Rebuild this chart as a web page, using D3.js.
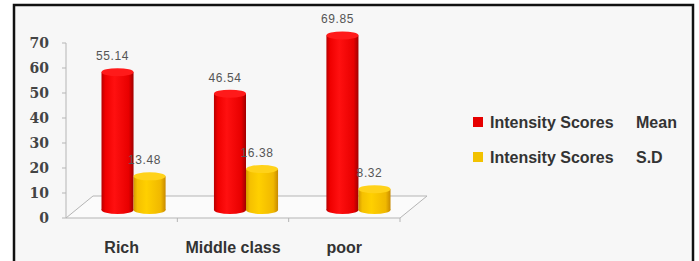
<!DOCTYPE html>
<html>
<head>
<meta charset="utf-8">
<script src="https://cdn.jsdelivr.net/npm/d3@7"></script>
<style>
  body { margin: 0; background: #fff; }
  svg { display: block; }
</style>
</head>
<body>
<svg id="chart" width="699" height="261"></svg>
<script>
let categories = ['Rich', 'Middle class', 'poor']
let meanValues = [55.14, 46.54, 69.85]
let sdValues = [13.48, 16.38, 8.32]
let seriesNames = ['Intensity Scores', 'Intensity Scores']
let seriesStats = ['Mean', 'S.D']
let yTicks = [0, 10, 20, 30, 40, 50, 60, 70]

let svg = d3.select('#chart')
let defs = svg.append('defs')

// frame
svg.append('rect')
    .attr('x', 14).attr('y', 5)
    .attr('width', 679).attr('height', 300)
    .attr('fill', '#f7f7f7')
    .attr('stroke', '#111')
    .attr('stroke-width', 2.5)

// floor depth offset
let dx = 27, dy = 22

let yAxisScale = d3.scaleLinear().domain([0, 70]).range([218, 43])
let yBar = d3.scaleLinear().domain([0, 70]).range([210, 35])

let xFront = d3.scaleBand().domain(categories).range([66, 400])
let x0 = d3.scaleBand().domain(categories).range([66 + 13, 400 + 13]).paddingInner(0.43).paddingOuter(0.2)
let x1 = d3.scaleBand().domain(['mean', 'sd']).range([0, x0.bandwidth()])

// floor
let fl = yAxisScale(0)
svg.append('path')
    .attr('d', `M66,${fl} L400,${fl} L${400 + dx},${fl - dy} L${66 + dx},${fl - dy} Z`)
    .attr('fill', '#fbfbfb')
    .attr('stroke', '#b5b5b5')
    .attr('stroke-width', 1)

// y axis
svg.append('line')
    .attr('x1', 66).attr('x2', 66)
    .attr('y1', yAxisScale(70)).attr('y2', yAxisScale(0))
    .attr('stroke', '#b5b5b5')

svg.selectAll('.ytick')
    .data(yTicks)
    .enter()
    .append('line')
    .attr('x1', 62).attr('x2', 66)
    .attr('y1', d => yAxisScale(d)).attr('y2', d => yAxisScale(d))
    .attr('stroke', '#b5b5b5')

svg.selectAll('.ylabel')
    .data(yTicks)
    .enter()
    .append('text')
    .attr('x', 49)
    .attr('y', d => yAxisScale(d) + 5)
    .attr('text-anchor', 'end')
    .attr('font-family', 'DejaVu Serif')
    .attr('font-weight', 'bold')
    .attr('font-size', 14)
    .attr('fill', '#444')
    .text(d => d)

// category ticks on front edge
svg.selectAll('.xtick')
    .data(categories)
    .enter()
    .append('line')
    .attr('x1', d => xFront(d) + xFront.bandwidth())
    .attr('x2', d => xFront(d) + xFront.bandwidth())
    .attr('y1', fl).attr('y2', fl + 4)
    .attr('stroke', '#b5b5b5')

svg.selectAll('.xlabel')
    .data(categories)
    .enter()
    .append('text')
    .attr('x', d => xFront(d) + xFront.bandwidth() / 2)
    .attr('y', 253)
    .attr('text-anchor', 'middle')
    .attr('font-family', 'Liberation Sans')
    .attr('font-weight', 'bold')
    .attr('font-size', 16)
    .attr('fill', '#333')
    .text(d => d)

// gradients for cylinders
let makeGrad = (id, stops) => {
    let g = defs.append('linearGradient').attr('id', id)
        .attr('x1', '0%').attr('x2', '100%').attr('y1', '0%').attr('y2', '0%')
    stops.forEach(s => g.append('stop').attr('offset', s[0]).attr('stop-color', s[1]))
}
makeGrad('redGrad', [['0%', '#b80000'], ['12%', '#f00000'], ['40%', '#ff1010'], ['85%', '#e80000'], ['100%', '#a00000']])
makeGrad('yelGrad', [['0%', '#d49a00'], ['12%', '#f5c000'], ['40%', '#ffd000'], ['85%', '#f0b800'], ['100%', '#c88a00']])

let bars = []
categories.forEach((c, i) => {
    bars.push({cat: c, key: 'mean', value: meanValues[i], grad: 'redGrad', top: '#ff1a1a'})
    bars.push({cat: c, key: 'sd', value: sdValues[i], grad: 'yelGrad', top: '#ffd21a'})
})

let ry = 4
let barG = svg.selectAll('.bar')
    .data(bars)
    .enter()
    .append('g')
    .attr('transform', d => 'translate(' + (x0(d.cat) + x1(d.key)) + ',0)')

barG.append('ellipse')
    .attr('cx', x1.bandwidth() / 2)
    .attr('cy', yBar(0))
    .attr('rx', x1.bandwidth() / 2)
    .attr('ry', ry)
    .attr('fill', d => 'url(#' + d.grad + ')')

barG.append('rect')
    .attr('x', 0)
    .attr('y', d => yBar(d.value))
    .attr('width', x1.bandwidth())
    .attr('height', d => yBar(0) - yBar(d.value))
    .attr('fill', d => 'url(#' + d.grad + ')')

barG.append('ellipse')
    .attr('cx', x1.bandwidth() / 2)
    .attr('cy', d => yBar(d.value))
    .attr('rx', x1.bandwidth() / 2)
    .attr('ry', ry)
    .attr('fill', d => d.top)

barG.append('text')
    .attr('x', x1.bandwidth() / 2 - 5)
    .attr('y', d => yBar(d.value) - 12)
    .attr('text-anchor', 'middle')
    .attr('font-family', 'Liberation Sans')
    .attr('font-size', 12)
    .attr('letter-spacing', 0.6)
    .attr('fill', '#555')
    .text(d => d.value.toFixed(2))

// legend
let legendColors = ['#e60000', '#f2c200']
let legend = svg.selectAll('.legend')
    .data(seriesNames)
    .enter()
    .append('g')
    .attr('transform', (d, i) => 'translate(473,' + (122 + i * 35) + ')')

legend.append('rect')
    .attr('x', 0).attr('y', -5)
    .attr('width', 10).attr('height', 10)
    .attr('fill', (d, i) => legendColors[i])

legend.append('text')
    .attr('x', 17).attr('y', 6)
    .attr('font-family', 'Liberation Sans')
    .attr('font-weight', 'bold')
    .attr('font-size', 16)
    .attr('fill', '#333')
    .text(d => d)

legend.append('text')
    .attr('x', 163).attr('y', 6)
    .attr('font-family', 'Liberation Sans')
    .attr('font-weight', 'bold')
    .attr('font-size', 16)
    .attr('fill', '#333')
    .text((d, i) => seriesStats[i])
</script>
</body>
</html>
